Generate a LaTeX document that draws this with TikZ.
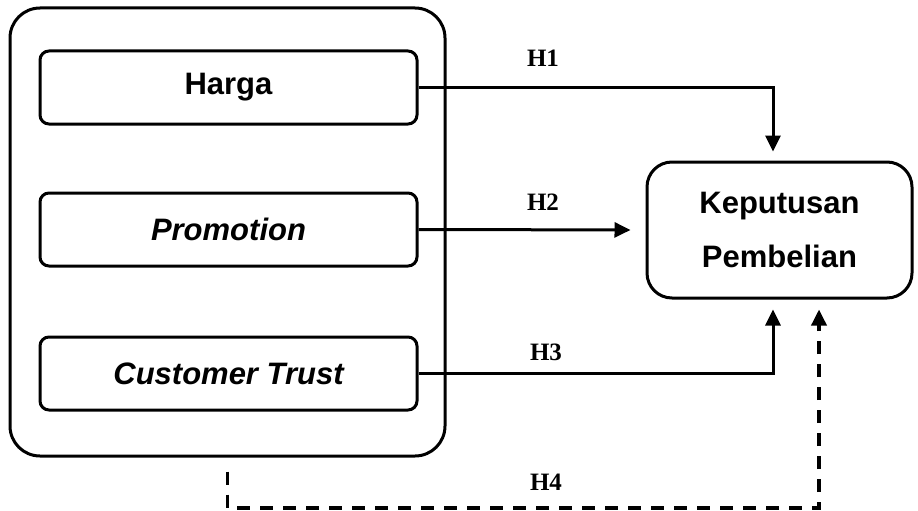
\documentclass[tikz,border=0pt]{standalone}
\usepackage{fontspec}
\setmainfont{Liberation Sans}
\newfontfamily\timesfont{Liberation Serif}
\usetikzlibrary{arrows.meta}
\tikzset{
  varbox/.style={draw, line width=3pt, rounded corners=9pt, minimum width=377pt, minimum height=73pt, font=\fontsize{31}{36}\selectfont\bfseries},
  hlabel/.style={font=\fontsize{25}{28}\selectfont\timesfont\bfseries},
  arr/.style={line width=3pt, -{Triangle[length=16pt,width=15pt]}}
}
\begin{document}
\begin{tikzpicture}[x=1pt, y=-1pt, line join=miter]
			\useasboundingbox (0,0) rectangle (918,511);
			% variabel bebas
			\node (outer) at (227.5,232) [draw, line width=3pt, rounded corners=30pt, minimum width=435pt, minimum height=448pt]{};
			\node (harga) at (228.5,87.5) [varbox]{Harga};
			\node (promo) at (228.5,229.5) [varbox]{\itshape Promotion};
			\node (trust) at (228.5,373.5) [varbox]{\itshape Customer Trust};
			% variabel terikat
			\node (kp) at (779.5,230) [draw, line width=3pt, rounded corners=25pt, minimum width=265pt, minimum height=136pt, align=center, font=\fontsize{31}{54}\selectfont\bfseries]{Keputusan\\Pembelian};
			\coordinate (h4turn) at (819,508);
			% hipotesis
			\draw[arr, shorten >=9pt] (harga.east) -| ([xshift=-6.5pt]kp.north);
			\draw[arr, shorten >=15pt] (promo.east) -- (kp.west);
			\draw[arr, shorten >=10pt] (trust.east) -| ([xshift=-6.5pt]kp.south);
			\draw[arr, line width=3.5pt, dash pattern=on 13pt off 10pt] ([yshift=-14pt]outer.south) |- (h4turn) -- ([xshift=39.5pt,yshift=-10pt]kp.south);
			\node (h1) at (543,58) [hlabel]{H1};
			\node (h2) at (543,202) [hlabel]{H2};
			\node (h3) at (546,352) [hlabel]{H3};
			\node (h4) at (546,482) [hlabel]{H4};
		\end{tikzpicture}
\end{document}
